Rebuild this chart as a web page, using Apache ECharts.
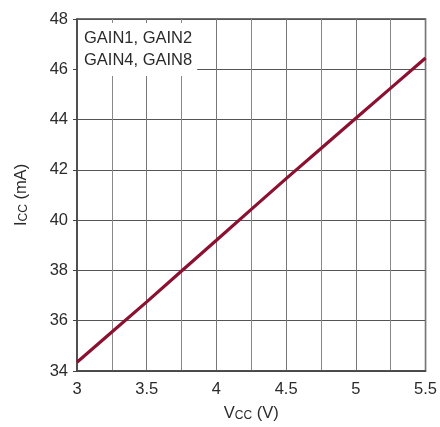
<!DOCTYPE html>
<html>
<head>
<meta charset="utf-8">
<script src="https://cdn.jsdelivr.net/npm/echarts@6/dist/echarts.min.js"></script>
<style>
  html, body { margin: 0; padding: 0; background: #fff; }
  #chart { width: 440px; height: 427px; }
</style>
</head>
<body>
<div id="chart"></div>
<script>
// Supply current vs. supply voltage
const vccVolts = [3.0, 3.25, 3.5, 3.75, 4.0, 4.25, 4.5, 4.75, 5.0, 5.25, 5.5];
const iccMilliamps = [34.35, 35.55, 36.75, 37.98, 39.2, 40.43, 41.65, 42.85, 44.05, 45.25, 46.45];
const gainLabels = ['GAIN1, GAIN2', 'GAIN4, GAIN8'];

const FONT = '"Liberation Sans", Arial, sans-serif';
const TEXT = '#2b2b2b';

const chart = echarts.init(document.getElementById('chart'), null, { renderer: 'canvas' });

chart.setOption({
  animation: false,
  backgroundColor: '#fff',
  textStyle: { fontFamily: FONT },
  grid: {
    left: 77, right: 11, top: 19, bottom: 56,
    show: true, borderColor: '#444', borderWidth: 1.5
  },
  title: {
    text: gainLabels.join('\n'),
    left: 78, top: 23,
    padding: [4, 5, 5, 6],
    backgroundColor: '#fff',
    textStyle: { fontFamily: FONT, fontSize: 16.5, fontWeight: 'normal', color: TEXT, lineHeight: 22 }
  },
  xAxis: {
    type: 'value',
    min: 3, max: 5.5, interval: 0.5,
    name: '{m|V}{s|CC}{m| (V)}',
    nameLocation: 'middle',
    nameGap: 33,
    nameTextStyle: {
      rich: {
        m: { fontFamily: FONT, fontSize: 16.5, color: TEXT },
        s: { fontFamily: FONT, fontSize: 12, color: TEXT, padding: [6, 0, 0, 0] }
      }
    },
    axisLine: { show: true, lineStyle: { color: '#444', width: 1.5 } },
    axisTick: { show: false },
    axisLabel: { fontFamily: FONT, fontSize: 16.5, color: TEXT, margin: 10 },
    splitLine: { show: true, lineStyle: { color: '#777', width: 1 } },
    minorTick: { show: false, splitNumber: 2 },
    minorSplitLine: { show: true, lineStyle: { color: '#888', width: 1 } }
  },
  yAxis: {
    type: 'value',
    min: 34, max: 48, interval: 2,
    name: '{m|I}{s|CC}{m| (mA)}',
    nameLocation: 'middle',
    nameGap: 47,
    nameRotate: 90,
    nameTextStyle: {
      rich: {
        m: { fontFamily: FONT, fontSize: 16.5, color: TEXT },
        s: { fontFamily: FONT, fontSize: 12, color: TEXT, padding: [6, 0, 0, 0] }
      }
    },
    axisLine: { show: true, lineStyle: { color: '#444', width: 1.5 } },
    axisTick: { show: true, inside: false, length: 4, lineStyle: { color: '#444' } },
    axisLabel: { fontFamily: FONT, fontSize: 16.5, color: TEXT, margin: 9 },
    splitLine: { show: true, lineStyle: { color: '#555', width: 1.2 } }
  },
  series: [{
    type: 'line',
    data: vccVolts.map((v, i) => [v, iccMilliamps[i]]),
    showSymbol: false,
    smooth: false,
    lineStyle: { color: '#8c1030', width: 3.2 },
    z: 3
  }]
});
</script>
</body>
</html>
